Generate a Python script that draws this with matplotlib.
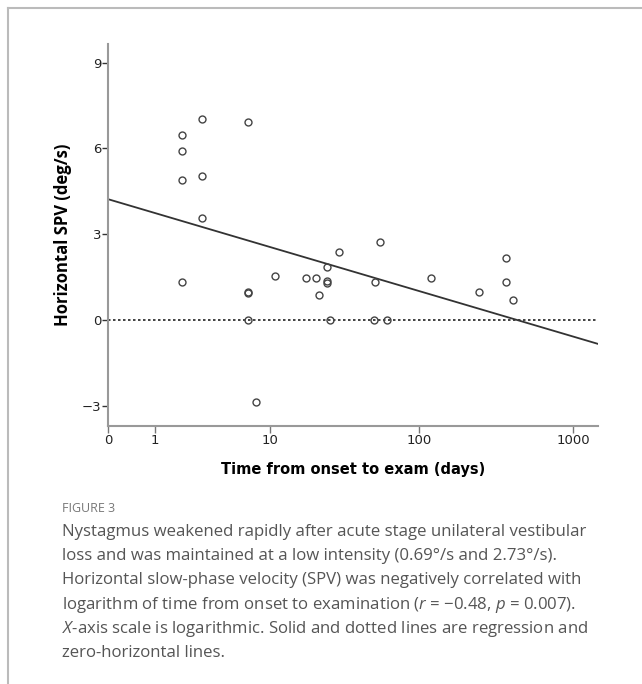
import numpy as np
import matplotlib
matplotlib.use("Agg")
import matplotlib.pyplot as plt
from matplotlib.lines import Line2D

plt.rcParams["mathtext.fontset"] = "custom"
plt.rcParams["mathtext.rm"] = "Open Sans"
plt.rcParams["mathtext.it"] = "Open Sans:italic"

# days since onset and horizontal SPV (deg/s)
days = [2, 2, 2, 3, 3, 3, 7, 2, 7, 7, 7, 8, 11, 18, 21, 22, 25, 25, 25,
        26, 30, 56, 52, 51, 62, 121, 246, 368, 367, 409]
spv = [6.46, 5.91, 4.90, 7.03, 5.05, 3.58, 6.93, 1.34, 0.95, 0.97, 0.0, -2.87,
       1.55, 1.46, 1.46, 0.88, 1.85, 1.36, 1.30, 0.0, 2.36, 2.73, 1.34, 0.0,
       0.0, 1.48, 0.97, 2.16, 1.32, 0.69]

# regression on log10(days + 1), as drawn in the figure
fit_intercept = 4.22
fit_slope = -1.60

x_ticks = [0, 1, 10, 100, 1000]
y_ticks = [-3, 0, 3, 6, 9]
x_max = 1444

caption_title = "FIGURE 3"
caption_lines = [
    "Nystagmus weakened rapidly after acute stage unilateral vestibular",
    "loss and was maintained at a low intensity (0.69°/s and 2.73°/s).",
    "Horizontal slow-phase velocity (SPV) was negatively correlated with",
    "logarithm of time from onset to examination ($\\it{r}$ = \u22120.48, $\\it{p}$ = 0.007).",
    "$\\it{X}$-axis scale is logarithmic. Solid and dotted lines are regression and",
    "zero-horizontal lines.",
]


def fwd(x):
    return np.log10(np.maximum(x, -0.999) + 1)


def inv(t):
    return 10 ** t - 1


fig = plt.figure(figsize=(6.42, 6.84), dpi=100)
ax = fig.add_axes([108.3 / 642, 1 - 425.7 / 684, (597.7 - 108.3) / 642, (425.7 - 44) / 684])
ax.set_xscale("function", functions=(fwd, inv))
ax.set_xlim(0, x_max)
ax.set_ylim(-3.70, 9.65)

ax.axhline(0, color="#222222", lw=1.2, ls=(0, (1.5, 1.5)), zorder=1)
xs = np.array([0, x_max])
ax.plot(xs, fit_intercept + fit_slope * fwd(xs), color="#333333", lw=1.3, zorder=2)
ax.plot(days, spv, "o", ms=5.0, mfc="none", mec="#444444", mew=1.0, zorder=3)

ax.set_xticks(x_ticks)
ax.set_xticklabels([str(v) for v in x_ticks])
ax.set_yticks(y_ticks)
ax.set_yticklabels([str(v).replace("-", "\u2212") for v in y_ticks])
ax.minorticks_off()
ax.tick_params(axis="x", length=5, width=1, color="#777777", labelsize=9.5,
               labelcolor="#222222", pad=1)
ax.tick_params(axis="y", length=4, width=1, color="#333333", labelsize=9.5,
               labelcolor="#222222", pad=1)

for s in ["top", "right"]:
    ax.spines[s].set_visible(False)
for s in ["left", "bottom"]:
    ax.spines[s].set_color("#999999")
    ax.spines[s].set_linewidth(1.5)

ax.set_xlabel("Time from onset to exam (days)", fontsize=10.5, fontweight="bold",
              family="DejaVu Sans", labelpad=11)
ax.set_ylabel("Horizontal SPV (deg/s)", fontsize=12, fontweight="bold",
              family="Open Sans", labelpad=7)

# frame lines of the figure panel
fig.add_artist(Line2D([7.5 / 642, 1], [1 - 7.5 / 684] * 2, color="#bbbbbb", lw=1.5))
fig.add_artist(Line2D([7.5 / 642] * 2, [0, 1 - 7.5 / 684], color="#bbbbbb", lw=1.5))

fig.text(62 / 642, 1 - 508 / 684, caption_title, fontsize=9, color="#777777",
         family="Open Sans", va="center")
for i, line in enumerate(caption_lines):
    fig.text(62 / 642, 1 - (532 + i * 24.2) / 684, line, fontsize=12.1,
             color="#555555", family="Open Sans", va="center")

fig.savefig("out.png", dpi=100)
